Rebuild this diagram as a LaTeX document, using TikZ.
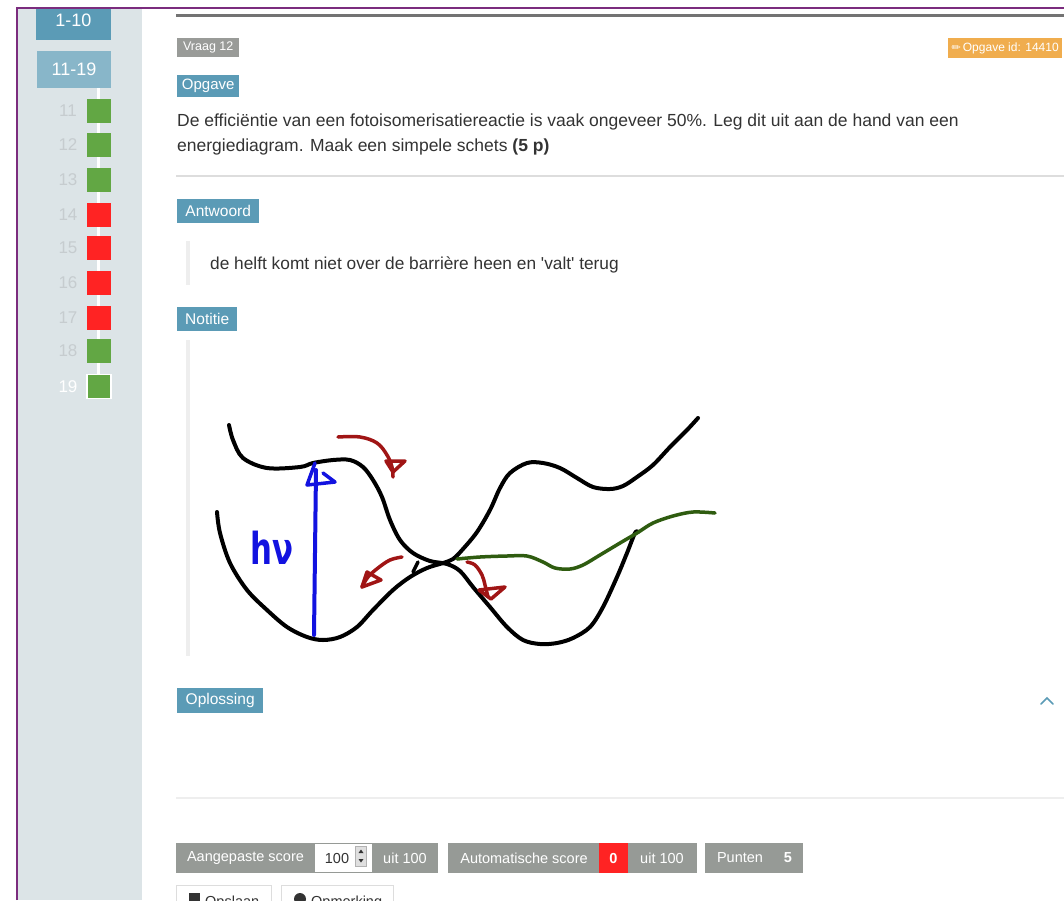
\documentclass[tikz,border=0pt]{standalone}
\usepackage{fontspec}
\setmainfont{Liberation Sans}
\newfontfamily\dejavu{DejaVu Sans}
\newcommand\fsz[1]{\fontsize{#1}{#1}\selectfont}
\definecolor{sidebg}{HTML}{DCE4E7}
\definecolor{navdark}{HTML}{5B9BB6}
\definecolor{navlight}{HTML}{88B6C9}
\definecolor{badgeblue}{HTML}{5B9BB6}
\definecolor{badgegray}{HTML}{999B98}
\definecolor{bargray}{HTML}{969A96}
\definecolor{badgeorange}{HTML}{F0AD4E}
\definecolor{okgreen}{HTML}{62A744}
\definecolor{badred}{HTML}{FF2323}
\definecolor{numgray}{HTML}{C6CCCF}
\definecolor{framepurple}{HTML}{7B2C7E}
\definecolor{txt}{HTML}{333333}
\definecolor{hrgray}{HTML}{DDDDDD}
\definecolor{quotebar}{HTML}{EEEEEE}
\definecolor{hred}{HTML}{A01515}
\definecolor{hgreen}{HTML}{2F5C10}
\definecolor{hblue}{HTML}{1212E0}
\tikzset{
  sq/.style={minimum size=24, inner sep=0, draw=none},
  num/.style={text=numgray, font=\fsz{17}, inner sep=0},
  badge/.style={fill=badgeblue, text=white, inner sep=0, anchor=north west, font=\fsz{15.5}},
  body/.style={text=txt, inner sep=0, anchor=base west, font=\fsz{17.5}},
  bartxt/.style={text=white, inner sep=0, font=\fsz{14.5}},
  ink/.style={line width=4, line cap=round, line join=round},
}
\begin{document}
\begin{tikzpicture}[x=1pt,y=-1pt]
\useasboundingbox (0,0) rectangle (1064,900);
\clip (0,0) rectangle (1064,900);
\fill[white] (0,0) rectangle (1064,900);
% sidebar
\fill[sidebg] (18,9) rectangle (142,900);
\node[fill=navdark, text=white, minimum width=75, minimum height=40, inner sep=0, font=\fsz{18}] (n110) at (73.5,20) {1-10};
\node[fill=navlight, text=white, minimum width=74, minimum height=37, inner sep=0, font=\fsz{18}] (n1119) at (74,69.5) {11-19};
\fill[white] (0,0) rectangle (1064,7.5);
\draw[framepurple, line width=2] (17,900) -- (17,8) -- (1064,8);
\draw[white, line width=3] (98,88) -- (98,392);
\foreach \n/\y/\c in {11/111/okgreen,12/145/okgreen,13/179.5/okgreen,14/214.5/badred,15/248/badred,16/282.5/badred,17/317.5/badred,18/351/okgreen}{
  \node[sq, fill=\c] (s\n) at (99,\y) {};
  \node[num] (l\n) at (68,\y) {\n};
}
\node[sq, fill=okgreen, draw=white, line width=1.2] (s19) at (99,386.5) {};
\node[num, text=white] (l19) at (68,386.5) {19};
% top line
\draw[gray!90!black, line width=2.5] (176,15.5) -- (1064,15.5);
% badges
\node[badge, fill=badgegray, minimum width=62, minimum height=19, font=\fsz{12.5}] (vraag) at (177,38) {Vraag 12};
\node[badge, fill=badgeorange, minimum width=114, minimum height=20, font=\fsz{12}] (oid) at (948,38) {{\dejavu\fsz{11}✏}\kern2pt Opgave id: 14410};
\node[badge, minimum width=62, minimum height=22, font=\fsz{15}] (opgave) at (177,75) {Opgave};
\node[body] (q1) at (177,126) {De efficiëntie van een fotoisomerisatiereactie is vaak ongeveer 50\%. Leg dit uit aan de hand van een};
\node[body] (q2) at (177,151) {energiediagram. Maak een simpele schets \textbf{(5 p)}};
\draw[hrgray, line width=1.2] (176,176) -- (1064,176);
\node[badge, minimum width=82, minimum height=24] (antw) at (177,199) {Antwoord};
\fill[quotebar] (186,241) rectangle (190,285);
\node[body, font=\fsz{17.3}] (ans) at (210,269) {de helft komt niet over de barrière heen en \textquotesingle valt\textquotesingle\ terug};
\node[badge, minimum width=60, minimum height=24] (notitie) at (177,307) {Notitie};
\fill[quotebar] (186,340) rectangle (190,656);
% sketch
\draw[ink] plot[smooth, tension=0.55] coordinates {(229,425) (233,440) (243,458) (267,468) (300,467) (313,463) (333,460) (350,460) (363,467) (373,480) (382,497) (390,520) (400,540) (413,553) (430,561) (447,564) (460,571) (473,587) (490,607) (507,627) (523,640) (540,644) (557,643) (573,638) (590,627) (603,607) (617,577) (627,553) (635,533) (638,532)};
\draw[ink] plot[smooth, tension=0.55] coordinates {(217,512) (220,533) (230,563) (247,590) (267,610) (287,627) (307,637) (323,640) (340,637) (357,627) (373,610) (393,590) (410,577) (427,568) (443,563) (453,559) (463,549) (477,532) (490,510) (500,488) (510,473) (527,463) (543,463) (560,468) (577,478) (593,487) (610,489) (623,486) (637,477) (653,465) (670,447) (687,430) (698,418)};
\draw[ink, line width=3.5] (418,562) -- (413,572);
\draw[ink, hgreen, line width=3.5] plot[smooth, tension=0.55] coordinates {(457,559) (480,557) (507,556) (527,556) (543,562) (555,568) (570,569) (583,565) (600,555) (620,543) (637,533) (653,523) (673,516) (693,512) (715,513)};
\draw[ink, hblue] (314,635) -- (316,470);
\draw[ink, hblue, line width=3.5] (315,463) -- (307,485) -- (335,482) -- (323,473);
\node[text=hblue, font=\dejavu\bfseries\fsz{44}, inner sep=0, xscale=0.7] (hnu) at (272,548) {hν};
\draw[ink, hred, line width=3.5] plot[smooth, tension=0.6] coordinates {(338,437) (360,437) (377,443) (387,455) (392,467) (393,477)};
\draw[ink, hred, line width=3.5] (386,461) -- (405,461) -- (393,472) -- cycle;
\draw[ink, hred, line width=3.5] plot[smooth, tension=0.6] coordinates {(402,557) (390,560) (378,568) (368,577) (362,587)};
\draw[ink, hred, line width=3.5] (362,587) -- (367,572) -- (381,580) -- cycle;
\draw[ink, hred, line width=3.5] plot[smooth, tension=0.6] coordinates {(467,562) (475,565) (482,575) (485,585) (488,597)};
\draw[ink, hred, line width=3.5] (479,590) -- (505,587) -- (491,599) -- cycle;
% oplossing
\node[badge, minimum width=86, minimum height=25] (opl) at (177,688) {Oplossing};
\draw[badgeblue, line width=1.5, line cap=round] (1041,704) -- (1047,698) -- (1053,704);
\draw[quotebar, line width=1.5] (176,798) -- (1064,798);
% score bar
\node[fill=bargray, minimum width=262, minimum height=30, inner sep=0] (bar1) at (307,858) {};
\node[bartxt] (t1) at (245.5,858) {Aangepaste score};
\node[fill=white, minimum width=57, minimum height=28, inner sep=0] (inp) at (343.5,858) {};
\node[text=txt, inner sep=0, font=\fsz{14.5}] (v100) at (337,858) {100};
\node[fill=gray!25, draw=gray!60, line width=0.5, minimum width=11, minimum height=20, inner sep=0] (spin) at (361,856) {};
\fill[txt] (358.5,853) -- (363.5,853) -- (361,849.5) -- cycle;
\fill[txt] (358.5,859) -- (363.5,859) -- (361,862.5) -- cycle;
\node[bartxt] (t2) at (405,858) {uit 100};
\node[fill=bargray, minimum width=249, minimum height=30, inner sep=0] (bar2) at (572.5,858) {};
\node[bartxt] (t3) at (524,858) {Automatische score};
\node[fill=badred, minimum width=29, minimum height=30, inner sep=0] (red0) at (613.5,858) {};
\node[bartxt, font=\bfseries\fsz{14.5}] (t4) at (613.5,858) {0};
\node[bartxt] (t5) at (662,858) {uit 100};
\node[fill=bargray, minimum width=98, minimum height=30, inner sep=0] (bar3) at (754,858) {};
\node[bartxt] (t6) at (740,858) {Punten};
\node[bartxt, font=\bfseries\fsz{14.5}] (t7) at (788,858) {5};
% bottom buttons (cut off at the lower edge, as in the screenshot)
\node[draw=hrgray, fill=white, minimum width=95, minimum height=30, inner sep=0, anchor=north west] (save) at (176,885) {};
\fill[txt] (189,893) rectangle (200,904);
\node[text=txt, inner sep=0, anchor=base west, font=\fsz{14.5}] (savet) at (205,906) {Opslaan};
\node[draw=hrgray, fill=white, minimum width=112, minimum height=30, inner sep=0, anchor=north west] (rem) at (281,885) {};
\fill[txt] (300,899) circle (6);
\node[text=txt, inner sep=0, anchor=base west, font=\fsz{14.5}] (remt) at (311,906) {Opmerking};
\end{tikzpicture}
\end{document}
